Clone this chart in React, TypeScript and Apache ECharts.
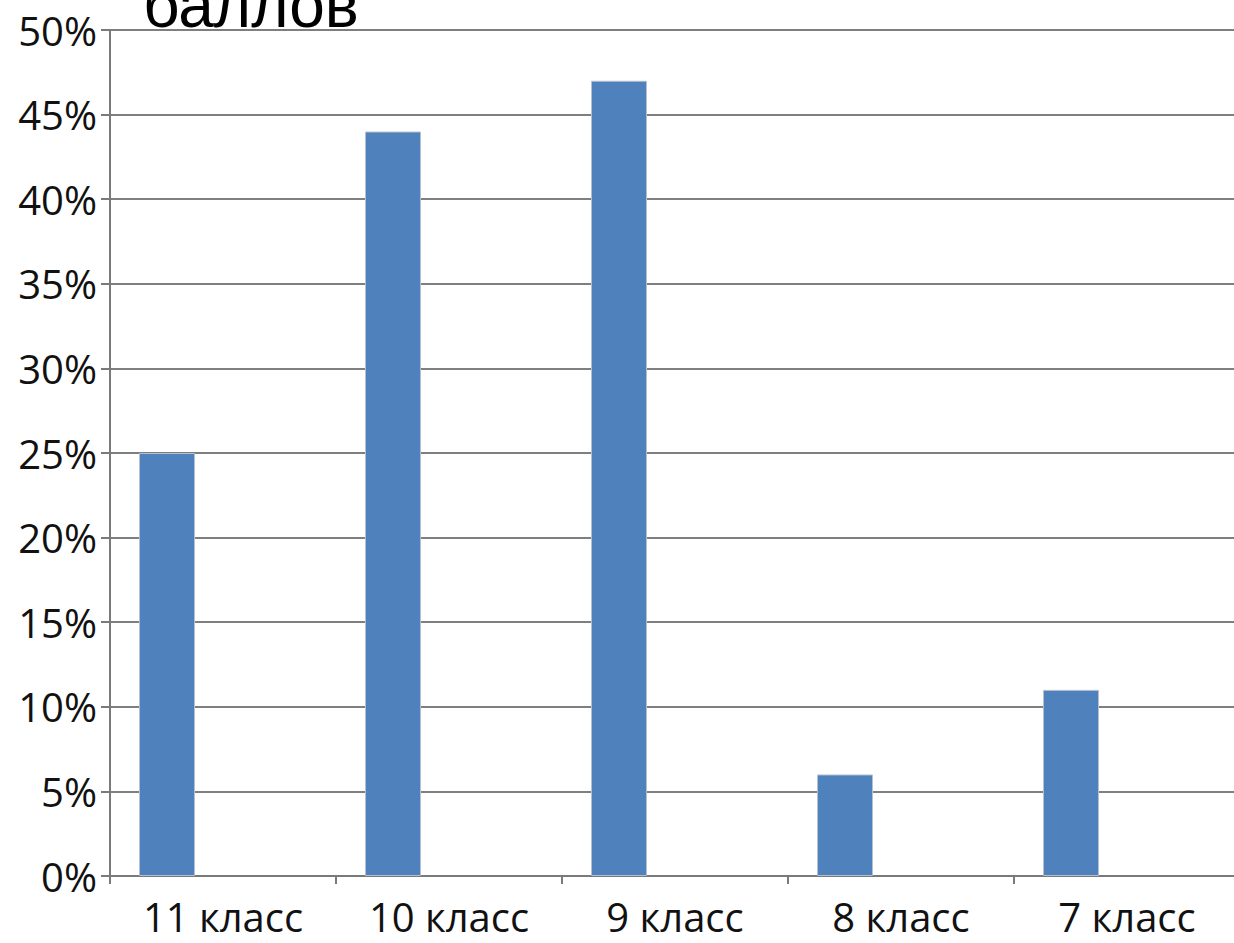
import React, { useEffect, useRef } from "react";
import * as echarts from "echarts";

const categories = ["11 класс", "10 класс", "9 класс", "8 класс", "7 класс"];
const values = [25, 44, 47, 6, 11];
const emptySeries = [null, null, null, null, null];
const titleText = "баллов";

export default function App() {
  const ref = useRef<HTMLDivElement>(null);
  useEffect(() => {
    if (!ref.current) return;
    const chart = echarts.init(ref.current, null, { renderer: "svg" });
    const labelFont = "'Open Sans', 'DejaVu Sans', sans-serif";
    chart.setOption({
      animation: false,
      backgroundColor: "#ffffff",
      grid: { left: 110, top: 30, width: 1130, height: 846, containLabel: false },
      graphic: [
        {
          type: "text",
          left: 143,
          top: -27,
          z: 100,
          style: {
            text: titleText,
            font: "64px 'Liberation Sans', Arial, sans-serif",
            fill: "#000000",
          },
        },
      ],
      xAxis: {
        type: "category",
        data: categories,
        boundaryGap: true,
        axisLine: { show: true, lineStyle: { color: "#7a7a7a", width: 2 } },
        axisTick: { show: true, length: 8, lineStyle: { color: "#7a7a7a", width: 2 } },
        axisLabel: {
          fontSize: 40,
          fontFamily: labelFont,
          color: "#111111",
          margin: 20,
        },
      },
      yAxis: {
        type: "value",
        min: 0,
        max: 50,
        interval: 5,
        axisLine: { show: true, lineStyle: { color: "#7a7a7a", width: 2 } },
        axisTick: { show: true, length: 9, lineStyle: { color: "#7a7a7a", width: 2 } },
        splitLine: { show: true, lineStyle: { color: "#7f7f7f", width: 2 } },
        axisLabel: {
          formatter: "{value}%",
          fontSize: 40,
          fontFamily: labelFont,
          color: "#111111",
          margin: 13,
        },
      },
      series: [
        {
          type: "bar",
          data: values,
          barWidth: 56,
          barGap: "0%",
          itemStyle: { color: "#4F81BD", borderColor: "#b4bfcf", borderWidth: 1 },
        },
        { type: "bar", data: emptySeries, barWidth: 56, barGap: "0%" },
        { type: "bar", data: emptySeries, barWidth: 56, barGap: "0%" },
      ],
    });
    return () => chart.dispose();
  }, []);
  return (
    <div
      ref={ref}
      style={{ position: "fixed", left: 0, top: 0, width: 1241, height: 943 }}
    />
  );
}
